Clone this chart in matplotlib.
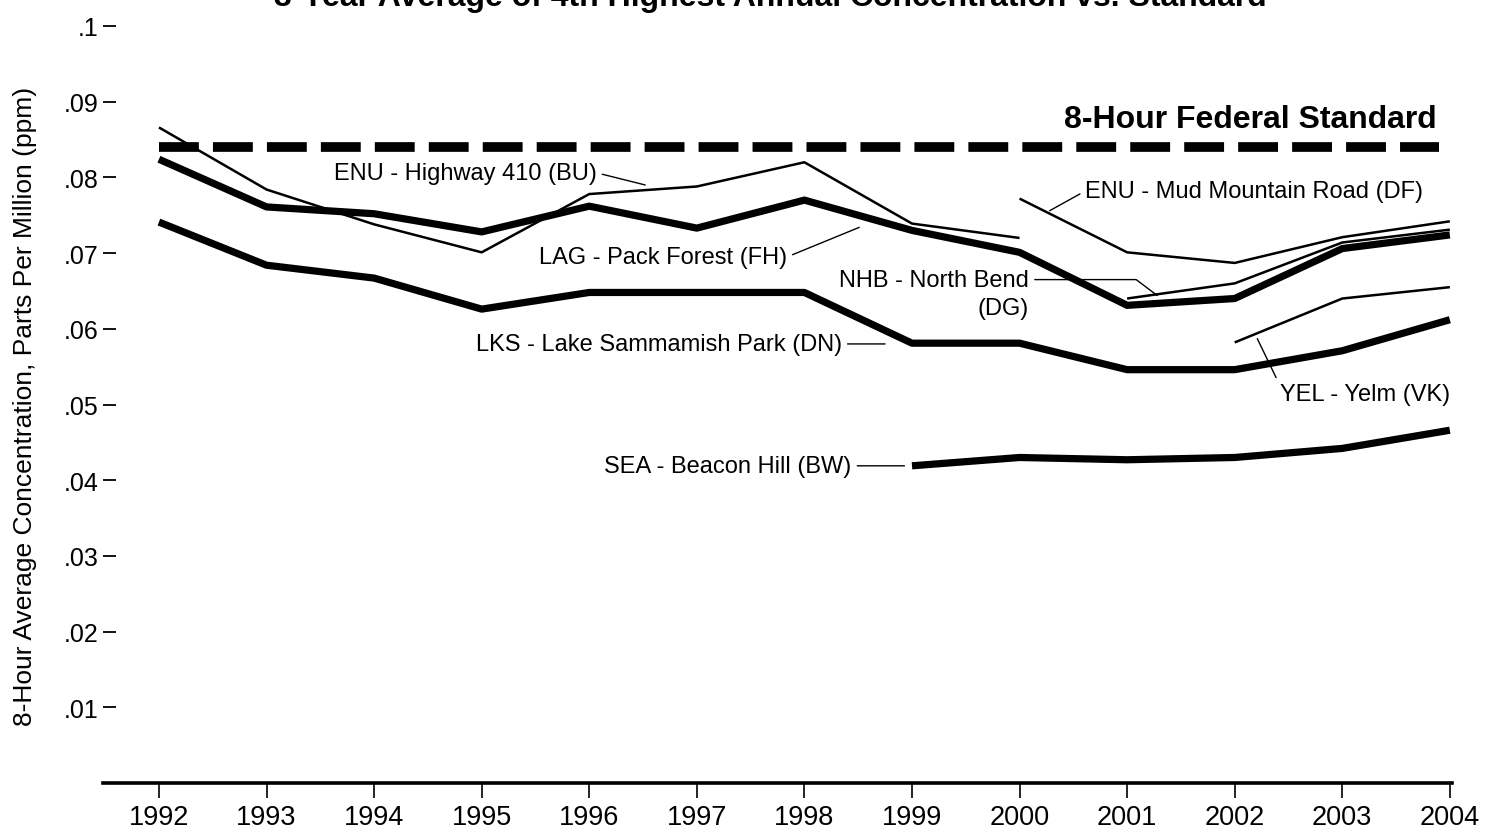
import matplotlib.pyplot as plt

# 3-year average of 4th highest annual 8-hour ozone concentration (ppm)
years = list(range(1992, 2005))
hwy410 = [0.0866, 0.0784, 0.0738, 0.0701, 0.0778, 0.0788, 0.0820, 0.0739, 0.0720]          # 1992-2000
pack_forest = [0.0824, 0.0761, 0.0752, 0.0728, 0.0762, 0.0733, 0.0770, 0.0730, 0.0701,
               0.0631, 0.0640, 0.0706, 0.0724]
lake_sammamish = [0.0741, 0.0684, 0.0667, 0.0626, 0.0648, 0.0648, 0.0648, 0.0581, 0.0581,
                  0.0546, 0.0546, 0.0571, 0.0612]
mud_mountain = [0.0772, 0.0701, 0.0687, 0.0721, 0.0742]      # 2000-2004
north_bend = [0.0640, 0.0660, 0.0714, 0.0731]                # 2001-2004
yelm = [0.0582, 0.0640, 0.0655]                              # 2002-2004
beacon_hill = [0.0419, 0.0430, 0.0427, 0.0430, 0.0442, 0.0466]  # 1999-2004
standard = 0.084

ytick_vals = [0.01, 0.02, 0.03, 0.04, 0.05, 0.06, 0.07, 0.08, 0.09, 0.1]
ytick_labels = ['.01', '.02', '.03', '.04', '.05', '.06', '.07', '.08', '.09', '.1']

plt.rcParams['font.family'] = ['Liberation Sans', 'DejaVu Sans']

fig = plt.figure(figsize=(14.87, 8.29), dpi=100)
ax = fig.add_axes([103 / 1487, 1 - 784 / 829, (1452 - 103) / 1487, (784 - 27) / 829])

thick = dict(color='black', lw=5.2, solid_capstyle='butt')
thin = dict(color='black', lw=1.8, solid_capstyle='butt')

ax.plot(years[:9], hwy410, **thin)
ax.plot(years, pack_forest, **thick)
ax.plot(years, lake_sammamish, **thick)
ax.plot(years[8:], mud_mountain, **thin)
ax.plot(years[9:], north_bend, **thin)
ax.plot(years[10:], yelm, **thin)
ax.plot(years[7:], beacon_hill, **thick)
ax.plot([years[0], years[-1] - 0.1], [standard, standard], color='black', lw=7,
        dashes=(4.1, 1.45), dash_capstyle='butt')

ax.text(2003.88, 0.0877, '8-Hour Federal Standard', ha='right', va='center',
        fontsize=23, fontweight='bold')

lab = dict(fontsize=17, va='center')
lead = dict(arrowstyle='-', lw=1.0, color='black', shrinkA=2, shrinkB=0)

ax.annotate('ENU - Highway 410 (BU)', xy=(1996.52, 0.0790), xytext=(1996.07, 0.0806),
            ha='right', arrowprops=dict(relpos=(1, 0.5), **lead), **lab)
ax.annotate('LAG - Pack Forest (FH)', xy=(1998.51, 0.0734), xytext=(1997.84, 0.0695),
            ha='right', arrowprops=dict(relpos=(1, 0.5), **lead), **lab)
ax.annotate('NHB - North Bend', xy=(2001.28, 0.0644), xytext=(2000.09, 0.0665),
            ha='right', arrowprops=dict(relpos=(1, 0.5), connectionstyle='angle,angleA=0,angleB=-37,rad=0', **lead), **lab)
ax.text(2000.09, 0.0628, '(DG)', ha='right', **lab)
ax.annotate('LKS - Lake Sammamish Park (DN)', xy=(1998.75, 0.0580), xytext=(1998.35, 0.0580),
            ha='right', arrowprops=dict(relpos=(1, 0.5), **lead), **lab)
ax.annotate('ENU - Mud Mountain Road (DF)', xy=(2000.28, 0.0756), xytext=(2000.61, 0.0782),
            ha='left', arrowprops=dict(relpos=(0, 0.5), **lead), **lab)
ax.annotate('YEL - Yelm (VK)', xy=(2002.21, 0.0587), xytext=(2004.0, 0.0514),
            ha='right', arrowprops=dict(relpos=(0, 0.9), **lead), **lab)
ax.annotate('SEA - Beacon Hill (BW)', xy=(1998.93, 0.0419), xytext=(1998.44, 0.0419),
            ha='right', arrowprops=dict(relpos=(1, 0.5), **lead), **lab)

ax.set_xlim(1991.48, 2004.02)
ax.set_ylim(0, 0.1)
ax.set_xticks(years)
ax.set_xticklabels([str(y) for y in years], fontsize=19.5)
ax.set_yticks(ytick_vals)
ax.set_yticklabels(ytick_labels, fontsize=18)
ax.tick_params(axis='x', direction='out', length=11, width=1.2, pad=4)
ax.tick_params(axis='y', direction='in', length=9, width=1.3, pad=3)

for side in ['top', 'right', 'left']:
    ax.spines[side].set_visible(False)
ax.spines['bottom'].set_linewidth(2.6)

fig.text(25 / 1487, 1 - 406 / 829, '8-Hour Average Concentration, Parts Per Million (ppm)',
         rotation=90, ha='center', va='center', fontsize=19)
fig.text(770 / 1487, 1 - 6 / 829, '3-Year Average of 4th Highest Annual Concentration vs. Standard',
         ha='center', va='baseline', fontsize=23, fontweight='bold')

fig.savefig('out.png', dpi=100)
